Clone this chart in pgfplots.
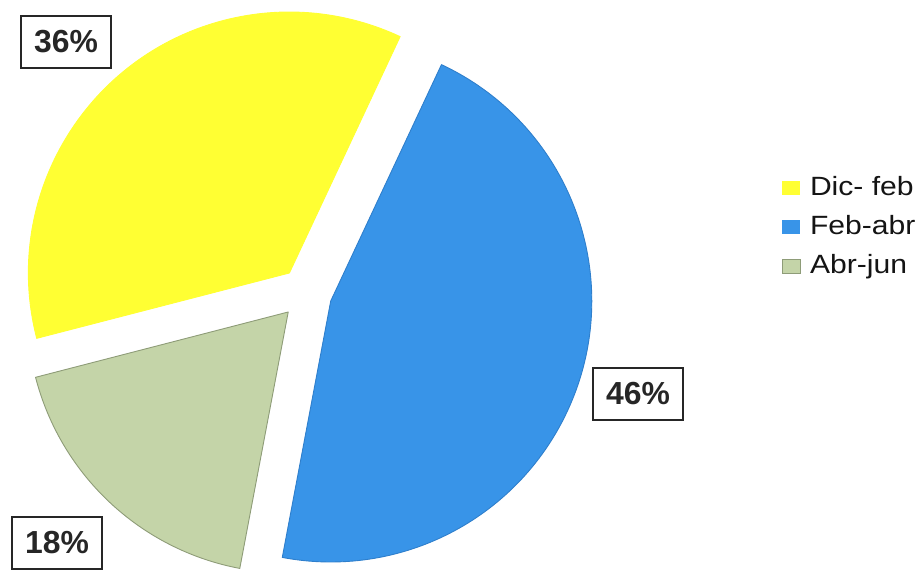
\documentclass[border=0pt]{standalone}
\usepackage{pgfplots}
\usepackage{pgfplotstable}
\pgfplotsset{compat=1.18}
\usepackage{fontspec}
\setmainfont{Liberation Sans}
\newfontfamily\legfont[FakeStretch=1.14]{Liberation Sans}
\definecolor{pieY}{RGB}{255,255,51}
\definecolor{pieB}{RGB}{56,148,232}
\definecolor{pieG}{RGB}{196,212,168}
\definecolor{edgeB}{RGB}{47,127,204}
\definecolor{edgeG}{RGB}{142,156,120}

\pgfplotstableread{
name value lx ly
Dic-feb 36 66 532
Feb-abr 46 638 180
Abr-jun 18 57 31
}\piedata

% pie geometry (bp): centre, explode distance, radius, first angle
\def\Ox{306}\def\Oy{281}\def\Dx{26}\def\Rr{261}
\xdef\curang{194.5}

\newcommand\slice[3]{%
  \pgfplotstablegetelem{#1}{value}\of\piedata
  \let\val\pgfplotsretval
  \pgfmathsetmacro\sa{\curang}%
  \pgfmathsetmacro\ea{\curang-3.6*\val}%
  \pgfmathsetmacro\mid{\curang-1.8*\val}%
  \pgfmathsetmacro\cx{\Ox+\Dx*cos(\mid)}%
  \pgfmathsetmacro\cy{\Oy+\Dx*sin(\mid)}%
  \pgfmathsetmacro\px{\cx+\Rr*cos(\sa)}%
  \pgfmathsetmacro\py{\cy+\Rr*sin(\sa)}%
  \edef\tmp{\noexpand\filldraw[fill=#2, draw=#3, line width=0.9bp, line join=round]
    (axis cs:\cx,\cy) -- (axis cs:\px,\py)
    arc[start angle=\sa, end angle=\ea, radius=\Rr bp] -- cycle;}%
  \tmp
  \xdef\curang{\ea}%
}
\newcommand\plabel[1]{%
  \pgfplotstablegetelem{#1}{value}\of\piedata\let\val\pgfplotsretval
  \pgfplotstablegetelem{#1}{lx}\of\piedata\let\lx\pgfplotsretval
  \pgfplotstablegetelem{#1}{ly}\of\piedata\let\ly\pgfplotsretval
  \edef\tmp{\noexpand\node[draw=black!85, line width=2.6bp, fill=white,
    minimum width=90bp, minimum height=52bp, inner sep=0pt,
    text=black!85, font=\noexpand\bfseries\noexpand\fontsize{32}{36}\noexpand\selectfont]
    at (axis cs:\lx,\ly) {\val\noexpand\%};}%
  \tmp
}

\begin{document}
\begin{tikzpicture}
\begin{axis}[
  x=1bp, y=1bp,
  xmin=0, xmax=923, ymin=0, ymax=574,
  hide axis, clip=false,
  legend style={at={(axis cs:782,399)}, anchor=north west, draw=none, fill=none,
    inner sep=0pt, outer sep=0pt,
    font=\legfont\fontsize{26.5}{30}\selectfont, text=black!92,
    row sep=11bp,
    /tikz/every odd column/.append style={column sep=8bp},
    nodes={inner sep=1.5bp, text height=19bp, text depth=6bp}},
  legend cell align=left,
  legend image code/.code={\path[#1] (0bp,-6bp) rectangle (18bp,8bp);},
]
\slice{0}{pieY}{pieY}
\slice{1}{pieB}{edgeB}
\slice{2}{pieG}{edgeG}
\plabel{0}
\plabel{1}
\plabel{2}
\addlegendimage{fill=pieY, draw=none}
\addlegendentry{Dic- feb}
\addlegendimage{fill=pieB, draw=none}
\addlegendentry{Feb-abr}
\addlegendimage{fill=pieG, draw=edgeG, line width=0.5bp}
\addlegendentry{Abr-jun}
\end{axis}
\pgfresetboundingbox
\path (current axis.south west) rectangle (current axis.north east);
\end{tikzpicture}
\end{document}
